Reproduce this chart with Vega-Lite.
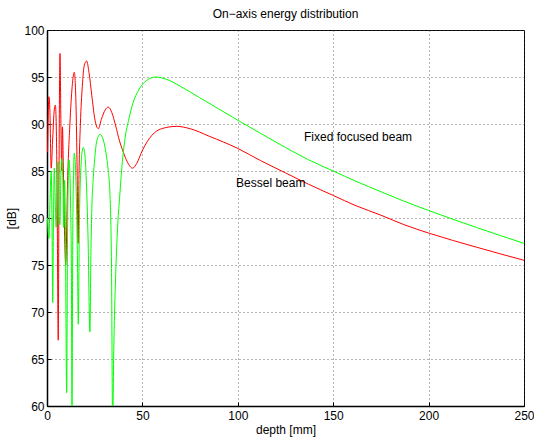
{
  "$schema": "https://vega.github.io/schema/vega-lite/v6.json",
  "width": 477,
  "height": 376,
  "autosize": {"type": "none"},
  "padding": {"left": 47, "top": 30, "right": 10, "bottom": 33},
  "background": "white",
  "title": {"text": "On\u2212axis energy distribution", "fontSize": 12, "fontWeight": "normal", "font": "Liberation Sans", "color": "black", "offset": 3},
  "config": {
    "view": {"stroke": "black", "strokeWidth": 1},
    "axis": {
      "domainColor": "black", "domainWidth": 1.5,
      "labelColor": "black", "labelFont": "Liberation Sans", "labelFontSize": 12, "labelFlush": false,
      "titleColor": "black", "titleFont": "Liberation Sans", "titleFontSize": 12, "titleFontWeight": "normal",
      "grid": true, "gridColor": "#444444", "gridDash": [1, 3], "gridOpacity": 0.8,
      "tickColor": "black", "tickSize": -4
    }
  },
  "datasets": {
    "bessel": [
      {"depth": 0.3, "dB": 87}, {"depth": 1.0, "dB": 92.9}, {"depth": 1.5, "dB": 91.5}, {"depth": 2.2, "dB": 85.3},
      {"depth": 3.0, "dB": 88.5}, {"depth": 3.8, "dB": 91.5}, {"depth": 4.4, "dB": 92}, {"depth": 5.2, "dB": 85},
      {"depth": 5.9, "dB": 67}, {"depth": 6.3, "dB": 85}, {"depth": 6.8, "dB": 97.5}, {"depth": 7.3, "dB": 90},
      {"depth": 7.7, "dB": 85}, {"depth": 8.1, "dB": 89.7}, {"depth": 8.6, "dB": 85}, {"depth": 9.8, "dB": 75},
      {"depth": 10.8, "dB": 84}, {"depth": 12.0, "dB": 90}, {"depth": 13.2, "dB": 94}, {"depth": 14.3, "dB": 95.5},
      {"depth": 15.2, "dB": 92}, {"depth": 15.8, "dB": 85}, {"depth": 16.3, "dB": 77.3}, {"depth": 16.8, "dB": 85},
      {"depth": 17.5, "dB": 90}, {"depth": 18.5, "dB": 94}, {"depth": 19.5, "dB": 96.2}, {"depth": 20.8, "dB": 96.7},
      {"depth": 22.0, "dB": 95.5}, {"depth": 23.5, "dB": 93}, {"depth": 25.0, "dB": 90.6}, {"depth": 26.9, "dB": 89.5},
      {"depth": 28.5, "dB": 90.5}, {"depth": 30.5, "dB": 91.5}, {"depth": 32.1, "dB": 91.8}, {"depth": 34.0, "dB": 91.2},
      {"depth": 36.0, "dB": 89.8}, {"depth": 38.0, "dB": 88.2}, {"depth": 40.0, "dB": 87}, {"depth": 42.0, "dB": 86},
      {"depth": 44.9, "dB": 85.3}, {"depth": 47, "dB": 85.8}, {"depth": 50, "dB": 87.2}, {"depth": 55, "dB": 88.8},
      {"depth": 60, "dB": 89.5}, {"depth": 68, "dB": 89.75}, {"depth": 75, "dB": 89.5}, {"depth": 85, "dB": 88.7},
      {"depth": 100, "dB": 87.4}, {"depth": 112, "dB": 86.1}, {"depth": 125, "dB": 84.8}, {"depth": 137, "dB": 83.6},
      {"depth": 150, "dB": 82.4}, {"depth": 162, "dB": 81.3}, {"depth": 175, "dB": 80.3}, {"depth": 187, "dB": 79.3},
      {"depth": 200, "dB": 78.4}, {"depth": 225, "dB": 76.9}, {"depth": 250, "dB": 75.5}
    ],
    "focused": [
      {"depth": 0.2, "dB": 80}, {"depth": 1.0, "dB": 77.8}, {"depth": 1.6, "dB": 82}, {"depth": 2.2, "dB": 85},
      {"depth": 2.6, "dB": 80}, {"depth": 3.0, "dB": 71}, {"depth": 3.4, "dB": 80}, {"depth": 3.8, "dB": 85.3},
      {"depth": 4.3, "dB": 82}, {"depth": 4.8, "dB": 79}, {"depth": 5.3, "dB": 84}, {"depth": 5.8, "dB": 86},
      {"depth": 6.3, "dB": 80}, {"depth": 6.8, "dB": 79.3}, {"depth": 7.2, "dB": 84}, {"depth": 7.7, "dB": 86.3},
      {"depth": 8.3, "dB": 84}, {"depth": 8.8, "dB": 79}, {"depth": 9.2, "dB": 84}, {"depth": 9.6, "dB": 80},
      {"depth": 10.3, "dB": 61.4}, {"depth": 10.8, "dB": 79}, {"depth": 11.2, "dB": 84.5}, {"depth": 11.5, "dB": 86.2},
      {"depth": 11.9, "dB": 85.3}, {"depth": 12.4, "dB": 81}, {"depth": 12.8, "dB": 74}, {"depth": 13.1, "dB": 59.5},
      {"depth": 13.5, "dB": 78}, {"depth": 13.9, "dB": 84.5}, {"depth": 14.3, "dB": 86.9}, {"depth": 14.8, "dB": 86},
      {"depth": 15.4, "dB": 82}, {"depth": 16.0, "dB": 75}, {"depth": 16.4, "dB": 68.7}, {"depth": 17.0, "dB": 80},
      {"depth": 17.6, "dB": 84.5}, {"depth": 18.3, "dB": 86.9}, {"depth": 19.0, "dB": 87.5}, {"depth": 19.8, "dB": 86.8},
      {"depth": 20.6, "dB": 84}, {"depth": 21.5, "dB": 78}, {"depth": 22.5, "dB": 67.9}, {"depth": 23.0, "dB": 76},
      {"depth": 23.5, "dB": 81}, {"depth": 24.3, "dB": 84.4}, {"depth": 25.0, "dB": 86.3}, {"depth": 26.0, "dB": 88.1},
      {"depth": 27.8, "dB": 88.9}, {"depth": 29.5, "dB": 88.3}, {"depth": 31.0, "dB": 86.8}, {"depth": 32.0, "dB": 85.2},
      {"depth": 33.0, "dB": 82.5}, {"depth": 33.8, "dB": 75}, {"depth": 34.4, "dB": 58}, {"depth": 35.0, "dB": 66},
      {"depth": 36.0, "dB": 74}, {"depth": 37.0, "dB": 79}, {"depth": 38.0, "dB": 82}, {"depth": 39.5, "dB": 86},
      {"depth": 41, "dB": 88.6}, {"depth": 43, "dB": 90.6}, {"depth": 45, "dB": 92.2}, {"depth": 48, "dB": 93.6},
      {"depth": 52, "dB": 94.6}, {"depth": 57, "dB": 95}, {"depth": 62, "dB": 94.8}, {"depth": 70, "dB": 94},
      {"depth": 80, "dB": 92.8}, {"depth": 90, "dB": 91.6}, {"depth": 100, "dB": 90.4}, {"depth": 112, "dB": 89.0},
      {"depth": 125, "dB": 87.5}, {"depth": 137, "dB": 86.2}, {"depth": 150, "dB": 85.0}, {"depth": 162, "dB": 83.9},
      {"depth": 175, "dB": 82.8}, {"depth": 187, "dB": 81.8}, {"depth": 200, "dB": 80.8}, {"depth": 225, "dB": 79.0},
      {"depth": 250, "dB": 77.3}
    ]
  },
  "layer": [
    {
      "data": {"name": "bessel"},
      "mark": {"type": "line", "color": "#ff0000", "strokeWidth": 1, "clip": true, "interpolate": "monotone"},
      "encoding": {
        "x": {"field": "depth", "type": "quantitative", "scale": {"domain": [0, 250], "nice": false},
              "axis": {"values": [0, 50, 100, 150, 200, 250], "title": "depth [mm]", "labelPadding": 8, "titlePadding": 3}},
        "y": {"field": "dB", "type": "quantitative", "scale": {"domain": [60, 100], "nice": false, "zero": false},
              "axis": {"values": [60, 65, 70, 75, 80, 85, 90, 95, 100], "title": "[dB]", "labelPadding": 7, "titlePadding": 5}}
      }
    },
    {
      "data": {"name": "focused"},
      "mark": {"type": "line", "color": "#00ff00", "strokeWidth": 1, "clip": true, "interpolate": "monotone"},
      "encoding": {
        "x": {"field": "depth", "type": "quantitative"},
        "y": {"field": "dB", "type": "quantitative"}
      }
    },
    {
      "data": {"values": [{}]},
      "mark": {"type": "text", "text": "Fixed focused beam", "align": "left", "baseline": "middle", "font": "Liberation Sans", "fontSize": 12, "color": "black"},
      "encoding": {"x": {"datum": 134.7}, "y": {"datum": 88.6}}
    },
    {
      "data": {"values": [{}]},
      "mark": {"type": "text", "text": "Bessel beam", "align": "left", "baseline": "middle", "font": "Liberation Sans", "fontSize": 12, "color": "black"},
      "encoding": {"x": {"datum": 99.1}, "y": {"datum": 83.7}}
    }
  ]
}
